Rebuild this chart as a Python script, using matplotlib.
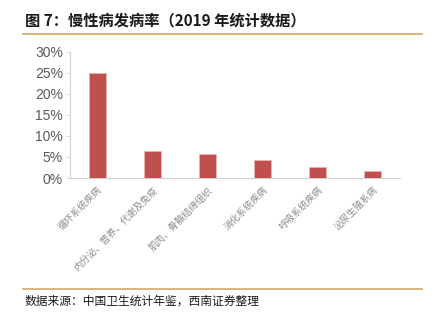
import matplotlib.pyplot as plt
from matplotlib.ticker import MultipleLocator, FuncFormatter
from matplotlib.lines import Line2D

plt.rcParams['font.family'] = ['Liberation Sans', 'Noto Sans CJK SC', 'DejaVu Sans']

# Data
categories = ['循环系统疾病', '内分泌、营养、代谢及免疫', '肌肉、骨骼结缔组织',
              '消化系统疾病', '呼吸系统疾病', '泌尿生殖系病']
rates = [25.0, 6.3, 5.7, 4.3, 2.6, 1.7]

fig = plt.figure(figsize=(4.34, 3.27), dpi=100)
ax = fig.add_axes([70 / 434, 1 - 178 / 327, 330 / 434, (178 - 51.5) / 327])

x = range(len(categories))
ax.bar(x, rates, width=0.31, color='#C0504D', edgecolor='#E8B5B3', linewidth=0.6, zorder=3)

ax.set_xlim(-0.5, len(categories) - 0.5)
ax.set_ylim(0, 30)
ax.yaxis.set_major_locator(MultipleLocator(5))
ax.yaxis.set_major_formatter(FuncFormatter(lambda v, p: f'{v:.0f}%'))
ax.tick_params(axis='y', labelsize=10, colors='#595959', length=3, width=0.6, pad=2)
ax.tick_params(axis='y', color='#D0D0D0')
ax.tick_params(axis='x', length=0, pad=5)
ax.set_xticks(list(x))
ax.set_xticklabels(categories, rotation=45, ha='right', rotation_mode='anchor',
                   fontsize=6.8, color='#8C8C8C', family=['Noto Sans CJK SC'])

for s in ['top', 'right']:
    ax.spines[s].set_visible(False)
for s in ['left', 'bottom']:
    ax.spines[s].set_color('#D0D0D0')
    ax.spines[s].set_linewidth(0.8)

# Title, rules and source
fig.text(25 / 434, 1 - 20 / 327, '图 7：慢性病发病率（2019 年统计数据）', fontsize=11,
         fontweight='bold', va='center', ha='left',
         family=['Noto Sans CJK SC', 'DejaVu Sans'], color='#1a1a1a')
fig.add_artist(Line2D([23 / 434, 422 / 434], [1 - 33.5 / 327] * 2, color='#D4A868', lw=1.2))
fig.add_artist(Line2D([23 / 434, 422 / 434], [1 - 288.5 / 327] * 2, color='#D4A868', lw=1.2))
fig.text(25 / 434, 1 - 301 / 327, '数据来源：中国卫生统计年鉴，西南证券整理', fontsize=8.5,
         va='center', ha='left', style='italic',
         family=['Noto Sans CJK SC', 'DejaVu Sans'], color='#1a1a1a')

fig.savefig('out.png', dpi=100)
